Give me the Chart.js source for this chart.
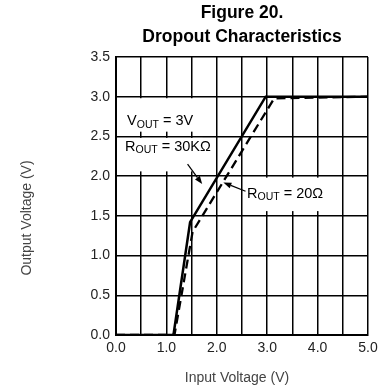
<!DOCTYPE html>
<html><head><meta charset="utf-8">
<script src="https://cdn.jsdelivr.net/npm/chart.js@4.4.0/dist/chart.umd.min.js"></script>
<style>html,body{margin:0;padding:0;background:#fff}#wrap{width:388px;height:392px}</style>
</head><body><div id="wrap"><canvas id="c" width="388" height="392"></canvas></div>
<script>
// ---- data ----
const titleLines = ['Figure 20.', 'Dropout Characteristics'];
const xAxisTitle = 'Input Voltage (V)';
const yAxisTitle = 'Output Voltage (V)';
const xRange = [0, 5];
const yRange = [0, 3.5];
const gridStep = 0.5;
// R_OUT = 30 kOhm (solid)
const vin30k  = [0, 1.14, 1.47, 2.97, 5.0];
const vout30k = [0, 0,    1.42, 3.0,  3.0];
// R_OUT = 20 Ohm (dashed)
const vin20  = [0, 1.16, 1.52, 3.14, 5.0];
const vout20 = [0, 0,    1.30, 2.98, 3.0];
// annotation texts [main, subscript, rest]
const noteVout = ['V', 'OUT', ' = 3V'];
const note30k  = ['R', 'OUT', ' = 30K\u03A9'];
const note20   = ['R', 'OUT', ' = 20\u03A9'];

// ---- layout / styles ----
const FONT = '"Liberation Sans", Arial, Helvetica, sans-serif';
const notes = [
  {parts: noteVout, x: 0.22, y: 2.69, box: [0.03, 1.68, 3.0, 2.56]},
  {parts: note30k,  x: 0.18, y: 2.37, box: [0.03, 1.72, 2.5, 2.06]},
  {parts: note20,   x: 2.60, y: 1.775, box: [2.56, 4.25, 2.0, 1.56]}
];
const arrows = [
  {from: [1.42, 2.15], to: [1.71, 1.90]},
  {from: [2.57, 1.81], to: [2.13, 1.92]}
];

const pts = (xs, ys) => xs.map((x, i) => ({x, y: ys[i]}));

function drawNote(ctx, px, py, parts) {
  ctx.fillStyle = '#000';
  ctx.textBaseline = 'middle';
  ctx.textAlign = 'left';
  ctx.font = '14.5px ' + FONT;
  ctx.fillText(parts[0], px, py);
  px += ctx.measureText(parts[0]).width;
  ctx.font = '10.5px ' + FONT;
  ctx.fillText(parts[1], px, py + 3.5);
  px += ctx.measureText(parts[1]).width;
  ctx.font = '14.5px ' + FONT;
  ctx.fillText(parts[2], px, py);
}

const annotPlugin = {
  id: 'annot',
  beforeDatasetsDraw(chart) {
    const {ctx, scales: {x, y}} = chart;
    ctx.save();
    notes.forEach(n => {
      const [x0, x1, y0, y1] = n.box;
      const X0 = x.getPixelForValue(x0), X1 = x.getPixelForValue(x1);
      const Y0 = y.getPixelForValue(y0) + 1.5, Y1 = y.getPixelForValue(y1);
      ctx.fillStyle = '#fff';
      ctx.fillRect(X0, Y0, X1 - X0, Y1 - Y0);
      drawNote(ctx, x.getPixelForValue(n.x), y.getPixelForValue(n.y), n.parts);
    });
    ctx.strokeStyle = '#000';
    ctx.fillStyle = '#000';
    ctx.lineWidth = 1.2;
    arrows.forEach(a => {
      const fx = x.getPixelForValue(a.from[0]), fy = y.getPixelForValue(a.from[1]);
      const tx = x.getPixelForValue(a.to[0]), ty = y.getPixelForValue(a.to[1]);
      const ang = Math.atan2(ty - fy, tx - fx);
      const L = 8, W = 3;
      const bx = tx - L * Math.cos(ang), by = ty - L * Math.sin(ang);
      ctx.beginPath(); ctx.moveTo(fx, fy); ctx.lineTo(bx, by); ctx.stroke();
      ctx.beginPath();
      ctx.moveTo(tx, ty);
      ctx.lineTo(bx + W * Math.sin(ang), by - W * Math.cos(ang));
      ctx.lineTo(bx - W * Math.sin(ang), by + W * Math.cos(ang));
      ctx.closePath(); ctx.fill();
    });
    ctx.restore();
  },
  afterDraw(chart) {
    const {ctx, chartArea: ca} = chart;
    ctx.save();
    ctx.fillStyle = '#444';
    ctx.font = '14px ' + FONT;
    ctx.textAlign = 'center';
    ctx.textBaseline = 'middle';
    ctx.fillText(xAxisTitle, (ca.left + ca.right) / 2 - 5, 378);
    ctx.translate(27, (ca.top + ca.bottom) / 2 + 22);
    ctx.rotate(-Math.PI / 2);
    ctx.fillText(yAxisTitle, 0, 0);
    ctx.restore();
  }
};

const isInt = v => Math.abs(v - Math.round(v)) < 1e-6;

new Chart(document.getElementById('c'), {
  type: 'scatter',
  data: {
    datasets: [
      {label: 'R_OUT = 30K\u03A9', data: pts(vin30k, vout30k), showLine: true,
       borderColor: '#000', borderWidth: 2.5, pointRadius: 0, tension: 0, fill: false},
      {label: 'R_OUT = 20\u03A9', data: pts(vin20, vout20), showLine: true,
       borderColor: '#000', borderWidth: 2.3, borderDash: [9, 5], pointRadius: 0, tension: 0, fill: false}
    ]
  },
  options: {
    responsive: false,
    devicePixelRatio: 1,
    animation: false,
    layout: {padding: {top: 0, right: 20, bottom: 0, left: 0}},
    plugins: {
      legend: {display: false},
      tooltip: {enabled: false},
      title: {
        display: true, fullSize: false, text: titleLines, color: '#000',
        font: {family: FONT, size: 17.5, weight: 'bold', lineHeight: 24 / 17.5},
        padding: {top: 1, bottom: 8}
      }
    },
    scales: {
      x: {
        type: 'linear', min: xRange[0], max: xRange[1],
        afterFit: s => { s.height = 57; },
        ticks: {stepSize: gridStep, autoSkip: false, maxRotation: 0, padding: 5,
                color: '#222', font: {family: FONT, size: 14},
                callback: v => isInt(v) ? v.toFixed(1) : ''},
        grid: {color: '#000', lineWidth: 1.5, drawTicks: false},
        border: {display: true, color: '#000', width: 2}
      },
      y: {
        type: 'linear', min: yRange[0], max: yRange[1],
        afterFit: s => { s.width = 116; },
        ticks: {stepSize: gridStep, padding: 6, color: '#222', font: {family: FONT, size: 14},
                callback: v => v.toFixed(1)},
        grid: {color: '#000', lineWidth: 1.5, drawTicks: false},
        border: {display: true, color: '#000', width: 2}
      }
    }
  },
  plugins: [annotPlugin]
});
</script></body></html>
